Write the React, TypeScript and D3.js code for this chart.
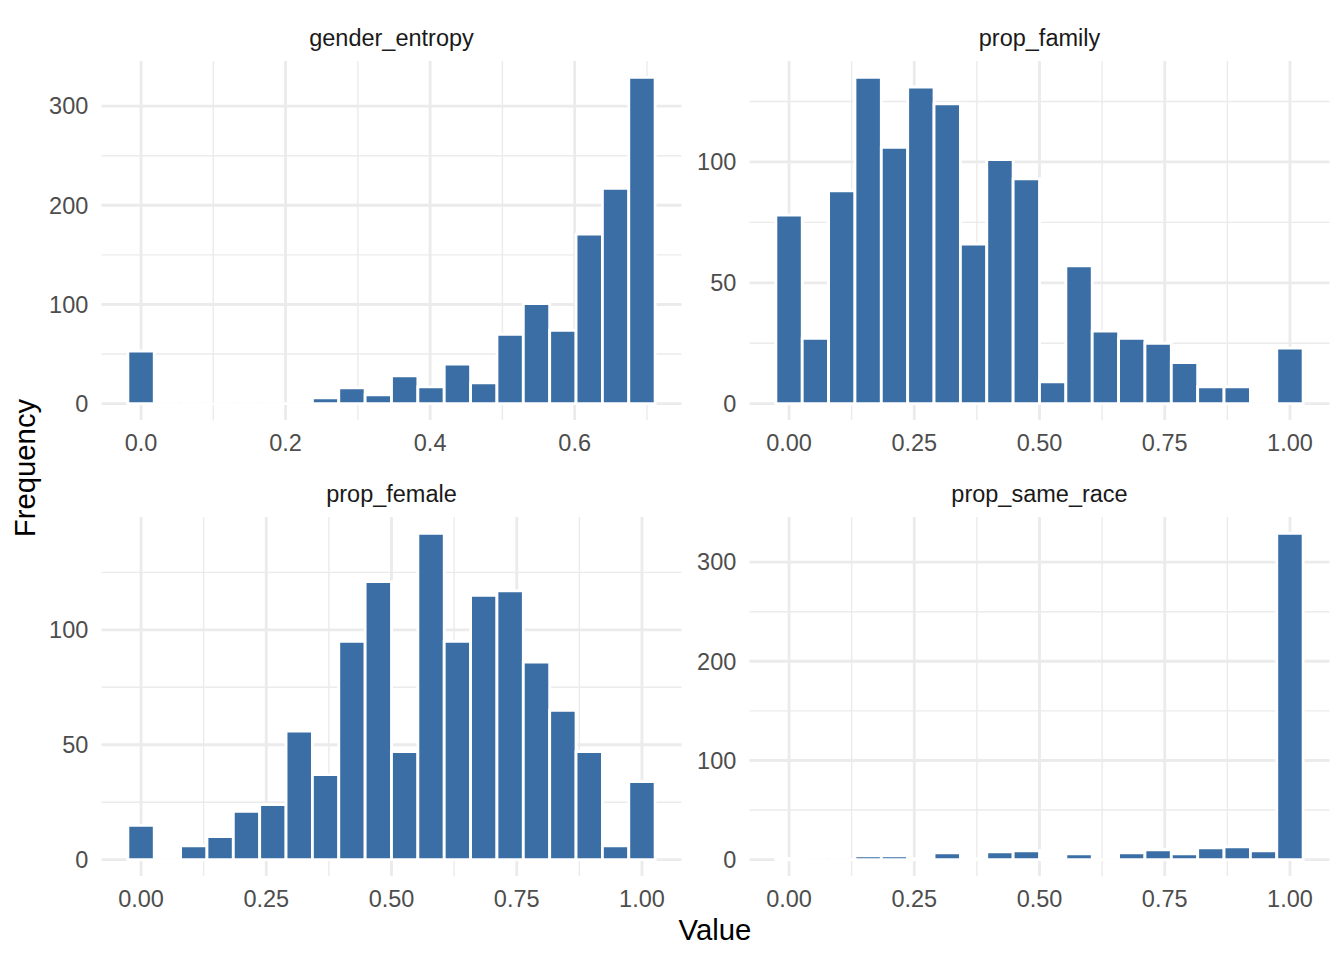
import React from "react";
import * as d3 from "d3";

// ---- data (counts per bin, 20 bins each) ----
const panelNames = ["gender_entropy", "prop_family", "prop_female", "prop_same_race"];
const rangeMax = [0.6931, 1, 1, 1];
const genderEntropyCounts = [53, 0, 0, 0, 0, 0, 0, 6, 16, 9, 28, 17, 40, 21, 70, 101, 74, 171, 217, 329];
const propFamilyCounts = [78, 27, 88, 135, 106, 131, 124, 66, 101, 93, 9, 57, 30, 27, 25, 17, 7, 7, 0, 23];
const propFemaleCounts = [15, 0, 6, 10, 21, 24, 56, 37, 95, 121, 47, 142, 95, 115, 117, 86, 65, 47, 6, 34];
const propSameRaceCounts = [1, 0, 0, 4, 4, 1, 7, 1, 8, 9, 0, 6, 0, 7, 10, 6, 12, 13, 9, 329];
const allCounts = [genderEntropyCounts, propFamilyCounts, propFemaleCounts, propSameRaceCounts];

const xTicks = [
  [0, 0.2, 0.4, 0.6],
  [0, 0.25, 0.5, 0.75, 1],
  [0, 0.25, 0.5, 0.75, 1],
  [0, 0.25, 0.5, 0.75, 1],
];
const xMinor = [
  [0.1, 0.3, 0.5, 0.7],
  [0.125, 0.375, 0.625, 0.875],
  [0.125, 0.375, 0.625, 0.875],
  [0.125, 0.375, 0.625, 0.875],
];
const xTickFormat = [".1f", ".2f", ".2f", ".2f"];
const yTicks = [
  [0, 100, 200, 300],
  [0, 50, 100],
  [0, 50, 100],
  [0, 100, 200, 300],
];
const yMinor = [
  [50, 150, 250],
  [25, 75, 125],
  [25, 75, 125],
  [50, 150, 250],
];

const FONT = "'Liberation Sans', Arial, Helvetica, sans-serif";
const BAR = "#3A6EA5";
const GRID = "#EBEBEB";

const cols = [
  [101.5, 681.5],
  [749.5, 1329.5],
];
const rows = [
  [61, 420],
  [517, 876],
];

function Panel({ idx }: { idx: number }) {
  const counts = allCounts[idx];
  const n = counts.length;
  const w = rangeMax[idx] / (n - 1);
  const lo = -w / 2;
  const hi = rangeMax[idx] + w / 2;
  const ex = (hi - lo) * 0.05;
  const [x0, x1] = cols[idx % 2];
  const [y0, y1] = rows[Math.floor(idx / 2)];
  const x = d3.scaleLinear().domain([lo - ex, hi + ex]).range([x0, x1]);
  const maxC = d3.max(counts) as number;
  const y = d3.scaleLinear().domain([-0.05 * maxC, 1.05 * maxC]).range([y1, y0]);
  const fmt = d3.format(xTickFormat[idx]);
  const cx = (x0 + x1) / 2;

  return (
    <g>
      {/* strip label */}
      <text x={cx} y={y0 - 15} textAnchor="middle" fontSize={23.5} fill="#1A1A1A" fontFamily={FONT}>
        {panelNames[idx]}
      </text>
      {/* minor grid */}
      {xMinor[idx].map((v) => (
        <line key={"xm" + v} x1={x(v)} x2={x(v)} y1={y0} y2={y1} stroke={GRID} strokeWidth={1.42} />
      ))}
      {yMinor[idx].map((v) => (
        <line key={"ym" + v} x1={x0} x2={x1} y1={y(v)} y2={y(v)} stroke={GRID} strokeWidth={1.42} />
      ))}
      {/* major grid */}
      {xTicks[idx].map((v) => (
        <line key={"xM" + v} x1={x(v)} x2={x(v)} y1={y0} y2={y1} stroke={GRID} strokeWidth={2.84} />
      ))}
      {yTicks[idx].map((v) => (
        <line key={"yM" + v} x1={x0} x2={x1} y1={y(v)} y2={y(v)} stroke={GRID} strokeWidth={2.84} />
      ))}
      {/* bars */}
      {counts.map((c, i) => {
        const c0 = i * w;
        const bx0 = x(c0 - w / 2);
        const bx1 = x(c0 + w / 2);
        const by0 = y(0);
        const by1 = y(c);
        return (
          <path
            key={"b" + i}
            d={`M${bx0},${by0}H${bx1}V${by1}H${bx0}Z`}
            fill={BAR}
            stroke="#FFFFFF"
            strokeWidth={2.84}
            strokeLinejoin="miter"
          />
        );
      })}
      {/* x tick labels */}
      {xTicks[idx].map((v) => (
        <text key={"xl" + v} x={x(v)} y={y1 + 31} textAnchor="middle" fontSize={23.5} fill="#4D4D4D" fontFamily={FONT}>
          {fmt(v)}
        </text>
      ))}
      {/* y tick labels */}
      {yTicks[idx].map((v) => (
        <text key={"yl" + v} x={x0 - 13.2} y={y(v)} dy="0.35em" textAnchor="end" fontSize={23.5} fill="#4D4D4D" fontFamily={FONT}>
          {v}
        </text>
      ))}
    </g>
  );
}

export default function App() {
  return (
    <svg width={1344} height={960} style={{ display: "block", position: "absolute", left: 0, top: 0, background: "#FFFFFF" }}>
      <rect x={0} y={0} width={1344} height={960} fill="#FFFFFF" />
      {[0, 1, 2, 3].map((i) => (
        <Panel key={i} idx={i} />
      ))}
      <text x={715} y={940} textAnchor="middle" fontSize={29.3} fill="#000000" fontFamily={FONT}>
        Value
      </text>
      <text
        transform="translate(35,468) rotate(-90)"
        textAnchor="middle"
        fontSize={29.3}
        fill="#000000"
        fontFamily={FONT}
      >
        Frequency
      </text>
    </svg>
  );
}
